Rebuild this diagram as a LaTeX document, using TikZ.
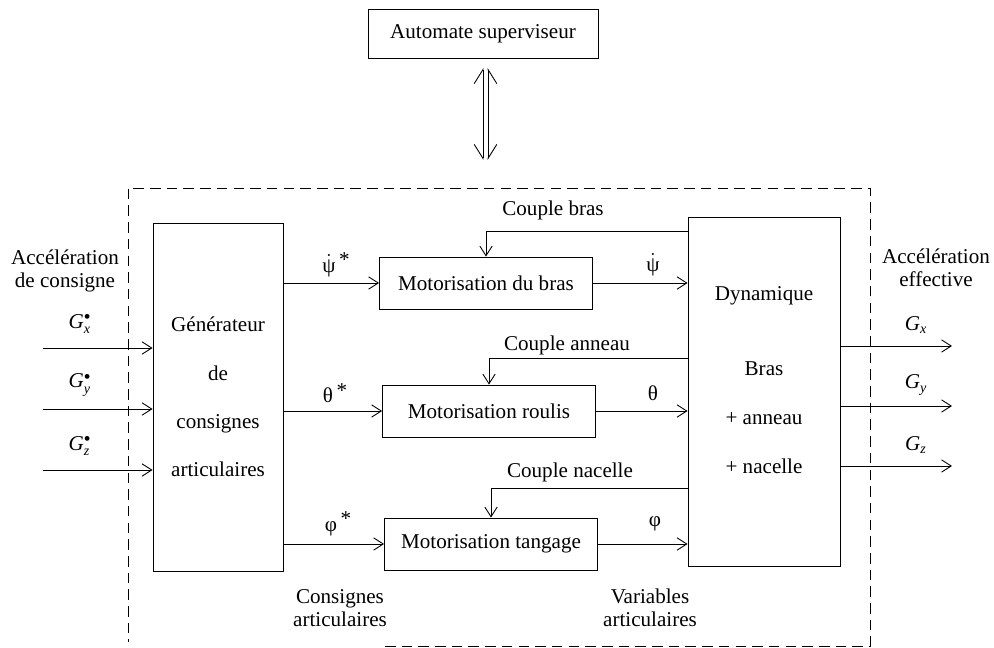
\documentclass[tikz,border=0pt,12pt]{standalone}
\usepackage{fontspec}
\setmainfont{Liberation Serif}
\usetikzlibrary{arrows.meta}

\newcommand{\Gcons}[1]{$\hbox{\itshape G}^{\scriptscriptstyle\bullet}_{\hbox{\scriptsize\itshape #1}}$}
\newcommand{\Geff}[1]{$\hbox{\itshape G}_{\hbox{\scriptsize\itshape #1}}$}
\newcommand{\etoile}{\,\raisebox{0.55ex}{*}}

\begin{document}
\begin{tikzpicture}[x=0.02cm,y=-0.02cm,line width=0.5pt]
% Styles
\tikzstyle{bloc}=[draw,inner sep=2pt]
\tikzstyle{moteur}=[bloc,minimum width=4.26cm,minimum height=1.04cm]
\tikzstyle{fleche}=[-{Straight Barb[length=5.5pt,width=7pt]}]
\tikzstyle{cadre}=[dash pattern=on 6pt off 3.5pt]

\useasboundingbox (0,0) rectangle (994,648);

% superviseur
\node[bloc,minimum width=4.6cm,minimum height=0.98cm] (auto) at (483,33.5) {Automate superviseur};
\coordinate (hautg) at (483,68);
\coordinate (hautd) at (488,68);
\coordinate (basg) at (483,160);
\coordinate (basd) at (488,160);
\draw[{Straight Barb[right,length=8pt,width=10pt]}-{Straight Barb[left,length=8pt,width=10pt]}] (basg) -- (hautg);
\draw[{Straight Barb[left,length=8pt,width=10pt]}-{Straight Barb[right,length=8pt,width=10pt]}] (basd) -- (hautd);

% cadre
\draw[cadre] (385,646) -- (870,646) -- (870,188) -- (128,188) -- (128,642);

% generateur et dynamique
\node[bloc,minimum width=2.6cm,minimum height=6.96cm,align=center] (gen) at (218,397)
  {Générateur\\[13pt]de\\[13pt]consignes\\[13pt]articulaires};
\node[bloc,minimum width=3.04cm,minimum height=6.98cm] (dyn) at (764,391.5) {};
\node[align=center] (dyntxt) at (764,380) {Dynamique\\[28pt]Bras\\[13.5pt]+ anneau\\[13.5pt]+ nacelle};

% motorisations
\foreach \nom/\xc/\yc/\texte in {bras/486/283/du bras, roulis/489/411/roulis, tangage/491/544/tangage}
  \node[moteur] (\nom) at (\xc,\yc) {Motorisation \texte};

\foreach \nom in {bras,roulis,tangage} {
  \draw[fleche] (\nom.west -| gen.east) -- (\nom.west);
  \draw[fleche] (\nom.east) -- (\nom.east -| dyn.west);
}

% couples
\foreach \nom/\yc in {bras/231, roulis/358, tangage/488}
  \draw[fleche] (dyn.west |- 0,\yc) -| (\nom.north);
\node (cbras) at (553,210) {Couple bras};
\node (canneau) at (567,345) {Couple anneau};
\node (cnacelle) at (570,472) {Couple nacelle};

% variables
\node (psic) at (336,265) {$\dot{\hbox{ψ}}$\etoile};
\node (thetac) at (335,393) {θ\etoile};
\node (phic) at (338,524) {φ\etoile};
\node (psi) at (653,265) {$\dot{\hbox{ψ}}$};
\node (theta) at (653,393) {θ};
\node (phi) at (655,524) {φ};

% entrees
\foreach \i/\yc in {x/348,y/409,z/470} {
  \coordinate (e\i) at (43,\yc);
  \draw[fleche] (e\i) -- (e\i -| gen.west);
  \node (ge\i) at (80,\yc-24) {\Gcons{\i}};
}
% sorties
\foreach \i/\yc in {x/346,y/406,z/466} {
  \coordinate (s\i) at (952,\yc);
  \draw[fleche] (dyn.east |- s\i) -- (s\i);
  \node (gs\i) at (916,\yc-21) {\Geff{\i}};
}

\node[align=center] (acons) at (65,271) {Accélération\\[-1.5pt]de consigne};
\node[align=center] (aeff) at (936,268) {Accélération\\[-1.5pt]effective};
\node[align=center] (consart) at (340,608) {Consignes\\[-1.5pt]articulaires};
\node[align=center] (varart) at (650,608) {Variables\\[-1.5pt]articulaires};

\end{tikzpicture}
\end{document}
